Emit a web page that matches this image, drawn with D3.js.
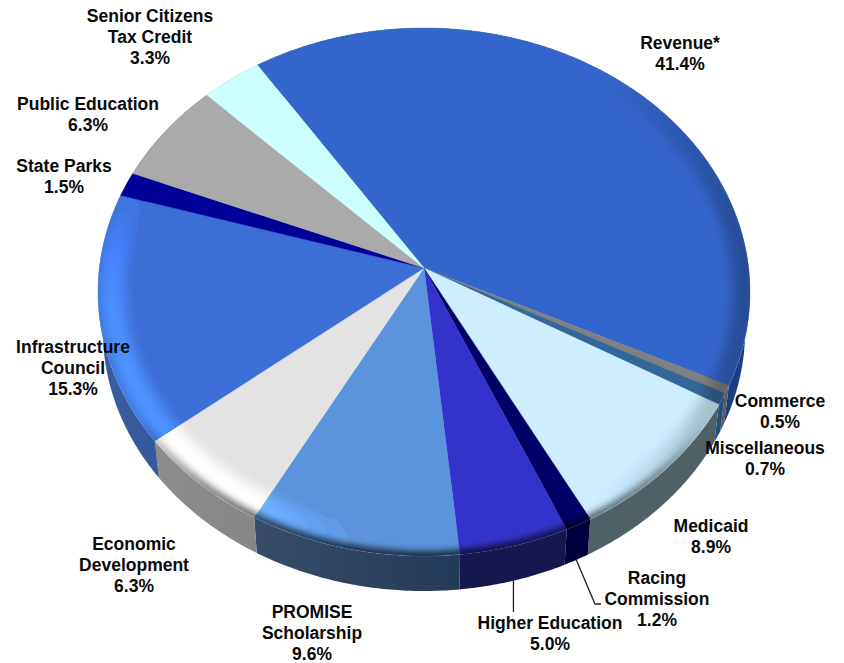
<!DOCTYPE html>
<html>
<head>
<meta charset="utf-8">
<script src="https://cdn.jsdelivr.net/npm/d3@7"></script>
<style>
  html, body { margin: 0; padding: 0; background: #fff; }
  svg { display: block; }
  text { font-family: "Liberation Sans", Arial, sans-serif; font-weight: 700; font-size: 17.5px; fill: #0a0a0a; text-anchor: middle; }
</style>
</head>
<body>
<svg id="chart" width="844" height="663"></svg>
<script>
// Fund shares, clockwise from the Revenue slice
const categories = ["Revenue*", "Commerce", "Miscellaneous", "Medicaid", "Racing Commission", "Higher Education",
  "PROMISE Scholarship", "Economic Development", "Infrastructure Council", "State Parks", "Public Education", "Senior Citizens Tax Credit"];
const shares = [41.4, 0.5, 0.7, 8.9, 1.2, 5.0, 9.6, 6.3, 15.3, 1.5, 6.3, 3.3];

// Line breaks used in the slice captions
const captionLines = [["Revenue*"], ["Commerce"], ["Miscellaneous"], ["Medicaid"], ["Racing", "Commission"], ["Higher Education"],
  ["PROMISE", "Scholarship"], ["Economic", "Development"], ["Infrastructure", "Council"], ["State Parks"], ["Public Education"], ["Senior Citizens", "Tax Credit"]];

// Face and wall colours per slice
const faceColors = ["#3366cc", "#808080", "#336699", "#cceeff", "#000066", "#3333cc",
  "#5b94dc", "#e3e3e3", "#3b6fd6", "#000099", "#aaaaaa", "#ccffff"];
const wallColors = ["#1c3d85", "#5c5c5c", "#23507a", "#4f6066", "#00003c", "#17174f",
  "#233a58", "#7a7a7a", "#133f8c", "#000066", "#777777", "#8fb0b0"];

// Caption centres (x, y of first line's middle)
const captionAnchors = [[680, 42], [780, 400], [765, 447], [711, 525], [657, 577], [550, 622],
  [312, 611], [134, 543], [73, 346], [64, 165], [88, 103], [150, 15]];
const lineStep = 21;

const svg = d3.select("#chart");
const defs = svg.append("defs");

// Tilted disc: a unit circle seen in perspective, with its hub above the ellipse middle
const hub = { x: 424, y: 268 };
const tilt = { a: 324.6, b: 261.8, k: -0.0909 };
const depth = { dy: 39, scale: 0.985, midY: 292 };
const startDeg = -33.5;

function projectTop(angle, r = 1) {
  const u = r * Math.sin(angle), v = -r * Math.cos(angle);
  const w = 1 + tilt.k * v;
  return [hub.x + tilt.a * u / w, hub.y + tilt.b * v / w];
}
function projectBase(angle, r = 1) {
  const [x, y] = projectTop(angle, r);
  return [hub.x + (x - hub.x) * depth.scale,
          depth.midY + depth.dy + (y - depth.midY) * depth.scale];
}
const pathLine = d3.line();
function arcSamples(a0, a1, fn, r = 1) {
  const n = Math.max(2, Math.ceil(Math.abs(a1 - a0) / 0.01));
  return d3.range(n + 1).map(i => fn(a0 + (a1 - a0) * i / n, r));
}

const arcs = d3.pie().sort(null).value(d => d)
  .startAngle(startDeg * Math.PI / 180)
  .endAngle(startDeg * Math.PI / 180 + 2 * Math.PI)(shares);

// Walls first, so the faces cover their hidden back portion
const wallGroup = svg.append("g");
wallGroup.selectAll("path").data(arcs).join("path")
  .attr("d", d => pathLine([...arcSamples(d.startAngle, d.endAngle, projectTop),
                            ...arcSamples(d.endAngle, d.startAngle, projectBase)]) + "Z")
  .attr("fill", (d, i) => wallColors[i]);

const wallSheen = defs.append("linearGradient").attr("id", "wallSheen")
  .attr("gradientUnits", "userSpaceOnUse").attr("x1", 110).attr("x2", 460).attr("y1", 0).attr("y2", 0);
wallSheen.append("stop").attr("offset", 0).attr("stop-color", "#fff").attr("stop-opacity", 0.16);
wallSheen.append("stop").attr("offset", 1).attr("stop-color", "#fff").attr("stop-opacity", 0);
const fullRim = pathLine(arcSamples(0, 2 * Math.PI, projectTop)) + "Z";
const wallOutline = pathLine([...arcSamples(0, 2 * Math.PI, projectTop), ...arcSamples(2 * Math.PI, 0, projectBase)]) + "Z";
wallGroup.append("path").attr("d", wallOutline).attr("fill", "url(#wallSheen)").attr("fill-rule", "evenodd");

// Faces
const faceGroup = svg.append("g").style("isolation", "isolate");
faceGroup.selectAll("path").data(arcs).join("path")
  .attr("d", d => pathLine([[hub.x, hub.y], ...arcSamples(d.startAngle, d.endAngle, projectTop)]) + "Z")
  .attr("fill", (d, i) => faceColors[i])
  .attr("stroke", (d, i) => faceColors[i])
  .attr("stroke-width", 0.4);

// Bevel shading around the rim; each stroke carries its own clip so it blends with the faces
defs.append("clipPath").attr("id", "discClip").append("path").attr("d", fullRim);
const blur = (id, s) => defs.append("filter").attr("id", id)
  .attr("x", "-10%").attr("y", "-10%").attr("width", "120%").attr("height", "120%")
  .append("feGaussianBlur").attr("stdDeviation", s);
blur("softWide", 6);
blur("softNarrow", 3);

function stops(id, x1, y1, x2, y2, list) {
  const g = defs.append("linearGradient").attr("id", id).attr("gradientUnits", "userSpaceOnUse")
    .attr("x1", x1).attr("y1", y1).attr("x2", x2).attr("y2", y2);
  list.forEach(([o, c]) => g.append("stop").attr("offset", o).attr("stop-color", c));
}
stops("bevelLight", 182, 481, 284, 417, [[0, "#404040"], [0.33, "#383838"], [1, "#000"]]);
stops("bevelDarkRight", 600, 0, 760, 0, [[0, "#fff"], [1, "#b8b8b8"]]);
stops("bevelDarkFront", 0, 420, 0, 560, [[0, "#fff"], [0.45, "#999"], [1, "#444"]]);

const ring = r => pathLine(arcSamples(0, 2 * Math.PI, projectTop, r)) + "Z";
function rimStroke(r, stroke, width, filter, mode) {
  faceGroup.append("path").attr("d", ring(r)).attr("fill", "none")
    .attr("stroke", `url(#${stroke})`).attr("stroke-width", width)
    .attr("filter", `url(#${filter})`).attr("clip-path", "url(#discClip)")
    .style("mix-blend-mode", mode);
}
rimStroke(0.955, "bevelLight", 24, "softWide", "color-dodge");
rimStroke(0.985, "bevelDarkRight", 26, "softWide", "multiply");
rimStroke(1, "bevelDarkFront", 10, "softNarrow", "multiply");

// Leader lines for the two captions set below the disc
const leaderLine = d3.line();
const higherEdge = projectBase((arcs[5].startAngle + arcs[5].endAngle) / 2);
const racingEdge = projectBase((arcs[4].startAngle + arcs[4].endAngle) / 2);
svg.append("path").attr("d", leaderLine([higherEdge, [higherEdge[0], 612]]))
  .attr("fill", "none").attr("stroke", "#222").attr("stroke-width", 1.3);
svg.append("path").attr("d", leaderLine([racingEdge, [595, 604], [601, 604]]))
  .attr("fill", "none").attr("stroke", "#222").attr("stroke-width", 1.3);

// Captions
const captions = svg.append("g").selectAll("text").data(arcs).join("text")
  .attr("transform", (d, i) => `translate(${captionAnchors[i][0]},${captionAnchors[i][1]})`);
captions.each(function (d, i) {
  const lines = [...captionLines[i], d3.format(".1f")(d.value) + "%"];
  d3.select(this).selectAll("tspan").data(lines).join("tspan")
    .attr("x", 0).attr("y", (l, j) => j * lineStep).attr("dy", "0.4em").text(l => l);
});
</script>
</body>
</html>
